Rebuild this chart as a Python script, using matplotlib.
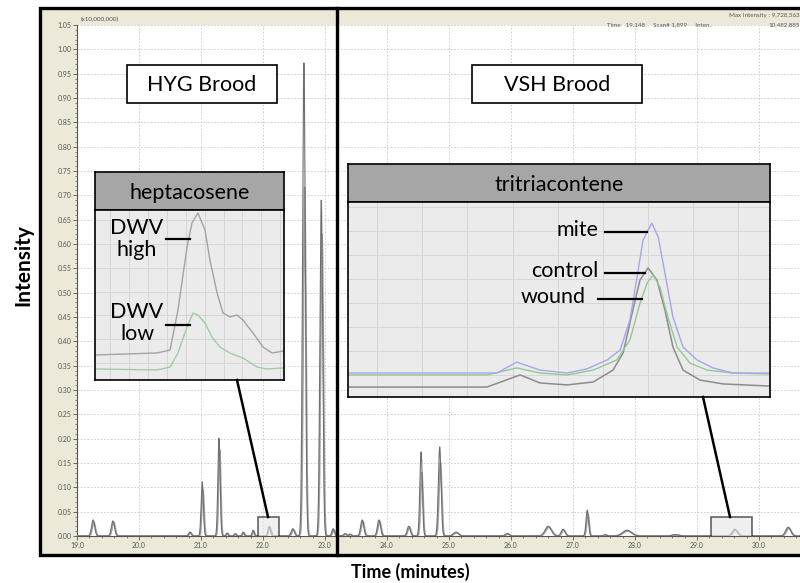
import numpy as np
import matplotlib.pyplot as plt
from matplotlib.patches import Rectangle
from matplotlib.lines import Line2D

W, H = 800, 583
plt.rcParams['font.family'] = ['Lato', 'DejaVu Sans']

# main chromatogram: peak centre (min), height (x10,000,000) of the two overlaid runs, width (min)
peak_time = [19.26, 19.58, 20.82, 21.02, 21.29, 21.42, 21.55, 21.68, 21.84, 22.10, 22.48,
             22.66, 22.94, 23.13, 23.32, 23.40, 23.60, 23.87, 24.35, 24.55, 24.85, 25.11,
             25.94, 26.60, 26.84, 27.23, 27.52, 27.87, 28.65, 29.61, 30.47]
peak_run1 = [0.033, 0.031, 0.008, 0.111, 0.201, 0.006, 0.005, 0.008, 0.012, 0.020, 0.015,
             0.972, 0.690, 0.015, 0.005, 0.004, 0.033, 0.033, 0.020, 0.173, 0.183, 0.008,
             0.005, 0.020, 0.014, 0.053, 0.003, 0.012, 0.003, 0.014, 0.018]
peak_run2 = [0.028, 0.028, 0.007, 0.095, 0.177, 0.005, 0.004, 0.007, 0.010, 0.018, 0.013,
             0.717, 0.620, 0.013, 0.004, 0.003, 0.030, 0.030, 0.018, 0.130, 0.150, 0.007,
             0.004, 0.018, 0.012, 0.045, 0.002, 0.010, 0.002, 0.012, 0.016]
peak_width = [0.025, 0.025, 0.020, 0.018, 0.018, 0.015, 0.015, 0.015, 0.015, 0.020, 0.025,
              0.022, 0.022, 0.020, 0.020, 0.020, 0.025, 0.025, 0.025, 0.020, 0.022, 0.040,
              0.030, 0.050, 0.030, 0.020, 0.020, 0.070, 0.050, 0.040, 0.040]

y_ticks = [i * 0.05 for i in range(22)]
x_ticks = [19.0, 20.0, 21.0, 22.0, 23.0, 24.0, 25.0, 26.0, 27.0, 28.0, 29.0, 30.0]

# heptacosene inset (relative units 0-100)
hept_high_x = [0, 32.8, 39.7, 43.9, 48.7, 51.3, 54.5, 58.2, 60.8, 64.6, 67.7, 71.4, 75.1, 78.3, 83.6, 88.9, 93.7, 100]
hept_high_y = [14.7, 15.9, 17.6, 41.2, 78.2, 92.4, 98.2, 88.2, 70.6, 51.2, 39.4, 37.1, 38.2, 35.3, 27.6, 19.4, 15.9, 17.1]
hept_low_x = [0, 32.8, 39.7, 43.9, 48.7, 51.9, 54.5, 58.2, 61.9, 66.1, 71.4, 78.3, 85.7, 91.0, 100]
hept_low_y = [6.5, 5.9, 7.6, 15.9, 31.2, 39.4, 38.2, 33.5, 25.3, 19.4, 15.9, 12.9, 7.6, 6.5, 7.1]

# tritriacontene inset (relative units 0-100)
mite_x = [0, 35.3, 40.0, 45.5, 51.9, 56.6, 61.4, 64.5, 66.8, 68.5, 69.9, 72.0, 73.5, 75.1, 77.0, 79.4, 82.7, 86.5, 91.2, 100]
mite_y = [12.3, 12.3, 17.9, 13.8, 12.3, 14.4, 19.0, 24.1, 39.5, 61.5, 80.5, 89.2, 82.1, 63.6, 41.0, 25.6, 19.0, 14.9, 12.3, 12.3]
control_x = [0, 32.9, 40.8, 45.5, 51.9, 58.1, 62.8, 65.2, 67.5, 69.2, 71.1, 73.2, 75.1, 77.0, 79.4, 83.4, 88.9, 100]
control_y = [5.1, 5.1, 11.3, 7.2, 6.2, 7.7, 13.8, 22.6, 44.6, 60.0, 66.2, 60.0, 44.6, 25.6, 13.8, 8.7, 6.7, 5.6]
wound_x = [0, 32.9, 40.0, 45.5, 51.9, 58.1, 63.7, 66.8, 69.2, 70.9, 72.3, 73.9, 75.8, 78.0, 81.0, 85.1, 91.2, 100]
wound_y = [11.3, 11.3, 14.9, 12.3, 11.3, 13.8, 19.0, 29.2, 48.2, 58.5, 62.6, 56.4, 41.0, 25.6, 17.4, 13.8, 12.3, 11.8]

LABEL_SIZE = 15.5


def frect(x0, y0, x1, y1):
    return [x0 / W, 1 - y1 / H, (x1 - x0) / W, (y1 - y0) / H]


def fpt(x, y):
    return x / W, 1 - y / H


def trace(t, heights, shift=0.0):
    y = np.zeros_like(t)
    for c, h, w in zip(peak_time, heights, peak_width):
        y += h * np.exp(-0.5 * ((t - c - shift) / w) ** 2)
    return y


fig = plt.figure(figsize=(W / 100, H / 100), dpi=100, facecolor="white")

# software window background
fig.add_artist(Rectangle(fpt(40, 555), (800 - 38) / W, (555 - 8) / H,
                         transform=fig.transFigure, facecolor="#ece9d8",
                         edgecolor="black", linewidth=2.4, zorder=-10))

ax = fig.add_axes(frect(77, 25, 800, 536))
ax.set_facecolor("white")
t = np.linspace(19.0, 30.7, 8000)
ax.plot(t, trace(t, peak_run2, 0.012), color="#a0a0a0", lw=1.2, zorder=3)
ax.plot(t, trace(t, peak_run1), color="#6f6f6f", lw=0.8, zorder=4)
ax.set_xlim(19.0, 19.0 + 723 / 62)
ax.set_ylim(0, 1.05)
ax.set_yticks(y_ticks)
ax.set_yticklabels([f"{v:.2f}" for v in y_ticks])
ax.set_xticks(x_ticks)
ax.set_xticklabels([f"{v:.1f}" for v in x_ticks])
ax.set_yticks(np.arange(0, 1.05, 0.01), minor=True)
ax.set_xticks(np.arange(19.0, 30.7, 0.2), minor=True)
ax.tick_params(which="major", length=3, width=0.6, colors="#555555", labelsize=5, pad=1)
ax.tick_params(which="minor", length=1.5, width=0.5, colors="#555555")
ax.grid(True, color="#c8c8c8", linewidth=0.6, linestyle=(0, (2, 2)))
ax.spines["top"].set_visible(False)
ax.spines["right"].set_visible(False)
for s in ("left", "bottom"):
    ax.spines[s].set_color("#555555")
    ax.spines[s].set_linewidth(0.8)

# zoom boxes on the trace
ax.add_patch(Rectangle((21.92, -0.004), 0.34, 0.043, facecolor="#e6e6e6", alpha=0.6,
                       edgecolor="black", linewidth=1.2, zorder=5))
ax.add_patch(Rectangle((29.23, -0.008), 0.66, 0.047, facecolor="#e6e6e6", alpha=0.6,
                       edgecolor="black", linewidth=1.2, zorder=5))

# header texts of the software window
fig.text(*fpt(100, 19), "(x10,000,000)", fontsize=4.5, color="#555555", ha="center", va="center")
fig.text(*fpt(800, 16), "Max Intensity : 9,728,563", fontsize=4.5, color="#555555", ha="right", va="center")
fig.text(*fpt(607, 25), "Time   19.148     Scan# 1,899     Inten.", fontsize=4.5, color="#555555",
         ha="left", va="center")
fig.text(*fpt(800, 25), "10,482,885", fontsize=4.5, color="#555555", ha="right", va="center")

# divider between the two broods
fig.add_artist(Line2D([337 / W, 337 / W], [1 - 8 / H, 1 - 555 / H], transform=fig.transFigure,
                      color="black", lw=2.4, zorder=6))

# brood labels
for x0, x1, label in [(127, 277, "HYG Brood"), (472, 642, "VSH Brood")]:
    fig.text(*fpt((x0 + x1) / 2, 85), label, fontsize=LABEL_SIZE, ha="center", va="center", zorder=7)
    fig.add_artist(Rectangle(fpt(x0, 103), (x1 - x0) / W, 38 / H, transform=fig.transFigure,
                             facecolor="white", edgecolor="black", linewidth=1.2, zorder=6))


def inset(x0, x1, y_head, y_top, y_bot, title, vgrid, hgrid):
    hax = fig.add_axes(frect(x0, y_head, x1, y_top))
    hax.set_facecolor("#a6a6a6")
    hax.set_xticks([])
    hax.set_yticks([])
    for s in hax.spines.values():
        s.set_linewidth(1.2)
    hax.text(0.5, 0.45, title, fontsize=LABEL_SIZE, ha="center", va="center", transform=hax.transAxes)
    bax = fig.add_axes(frect(x0, y_top, x1, y_bot))
    bax.set_facecolor("#ebebeb")
    bax.set_xlim(0, 100)
    bax.set_ylim(0, 100)
    bax.set_xticks([])
    bax.set_yticks([])
    for v in vgrid:
        bax.axvline(v, color="#d6d6d6", lw=0.7, zorder=0)
    for h in hgrid:
        bax.axhline(h, color="#d6d6d6", lw=0.7, zorder=0)
    for s in bax.spines.values():
        s.set_linewidth(1.2)
    return bax


hax = inset(95, 284, 172, 210, 380, "heptacosene",
            np.arange(8, 100, 10), np.arange(10, 100, 14))
hax.plot(hept_high_x, hept_high_y, color="#a3a3a3", lw=1.0)
hax.plot(hept_low_x, hept_low_y, color="#9fcf9f", lw=1.0)

tax = inset(348, 770, 164, 202, 397, "tritriacontene",
            np.arange(6.9, 100, 10.7), np.arange(11.3, 100, 12.3))
tax.plot(control_x, control_y, color="#8c8c8c", lw=1.1)
tax.plot(wound_x, wound_y, color="#93c993", lw=1.0)
tax.plot(mite_x, mite_y, color="#a5a8e8", lw=1.0)

# curve labels
for x, y, label in [(137, 239, "DWV\nhigh"), (137, 323, "DWV\nlow")]:
    fig.text(*fpt(x, y), label, fontsize=LABEL_SIZE, ha="center", va="center", linespacing=1.1)
for x, y, label in [(598, 230, "mite"), (598, 271, "control"), (586, 297, "wound")]:
    fig.text(*fpt(x, y), label, fontsize=LABEL_SIZE, ha="right", va="center")
for x0, x1, y in [(166, 190, 239), (166, 190, 325), (605, 647, 232), (605, 645, 273), (598, 642, 299)]:
    fig.add_artist(Line2D([x0 / W, x1 / W], [1 - y / H, 1 - y / H], transform=fig.transFigure,
                          color="black", lw=1.6, zorder=8))

# connectors from the insets to the zoom boxes
for (xa, ya), (xb, yb) in [((237, 380), (268, 517)), ((703, 397), (730, 517))]:
    fig.add_artist(Line2D([xa / W, xb / W], [1 - ya / H, 1 - yb / H], transform=fig.transFigure,
                          color="black", lw=1.8, zorder=8))

fig.text(*fpt(23, 265), "Intensity", fontsize=15, fontweight="bold", rotation=90,
         ha="center", va="center")
fig.text(*fpt(410, 572), "Time (minutes)", fontsize=13, fontweight="bold", ha="center", va="center")

fig.savefig("out.png", dpi=100, facecolor="white")
